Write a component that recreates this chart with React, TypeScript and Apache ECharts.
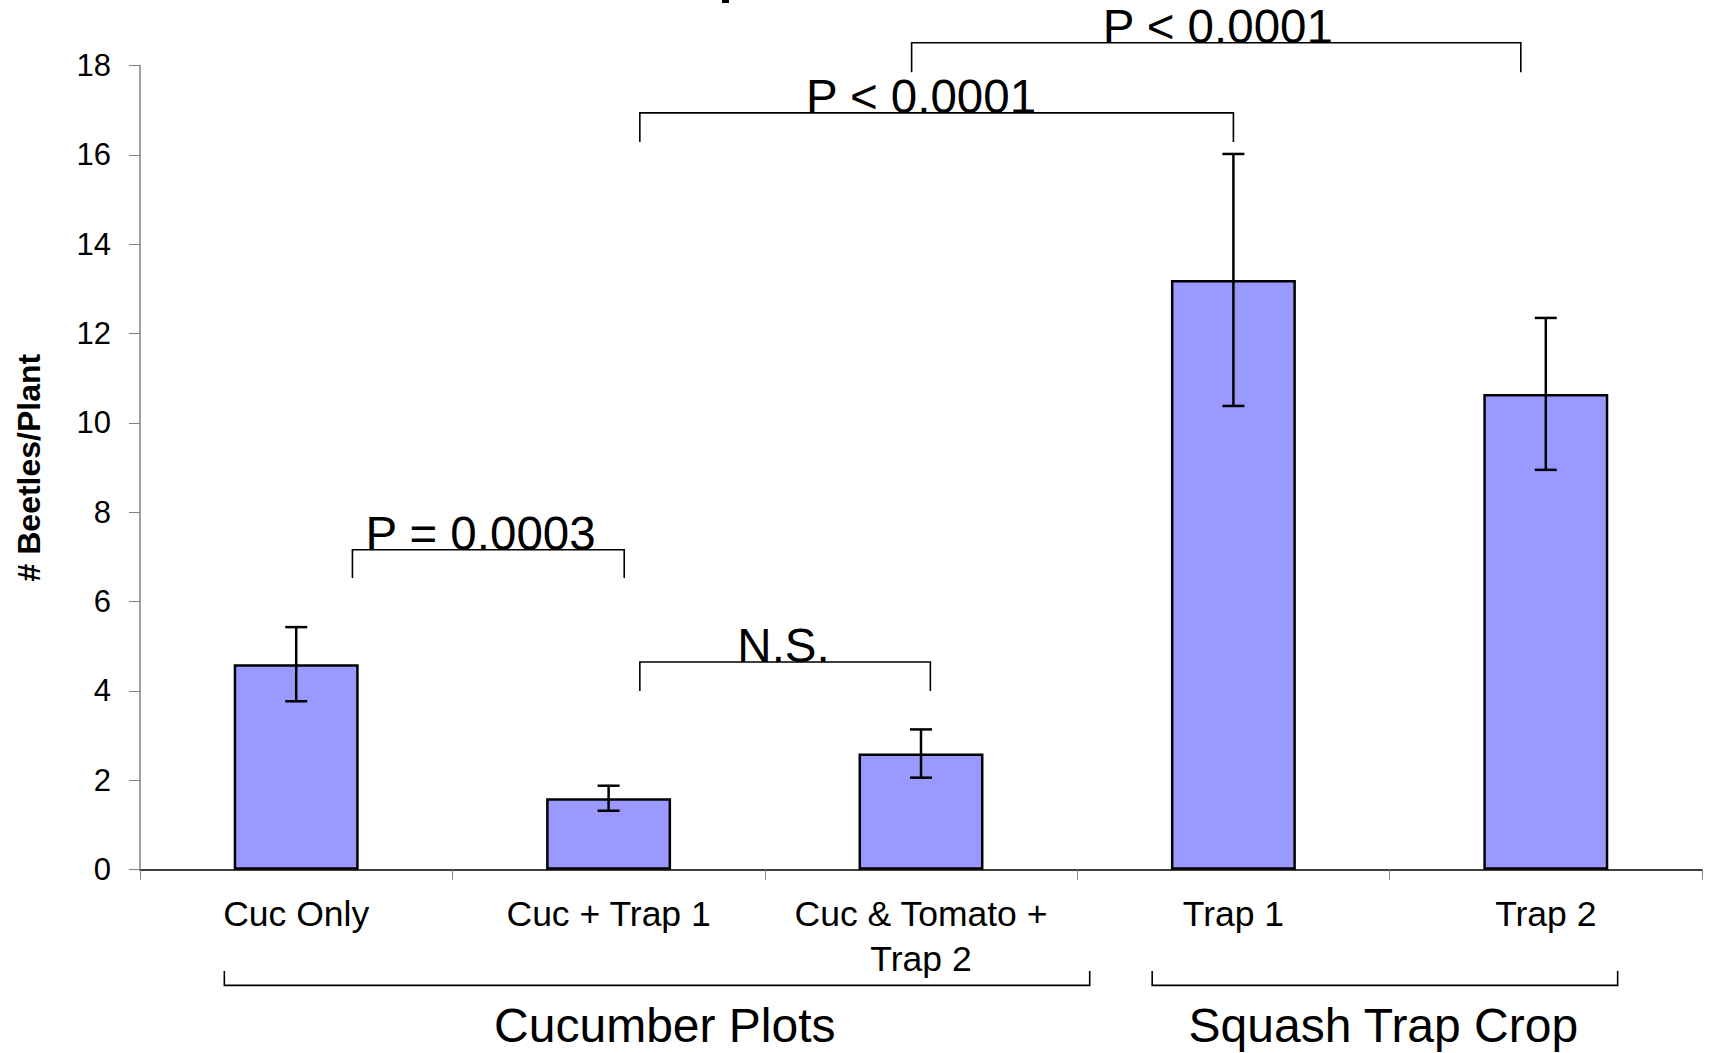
import React, { useEffect, useRef } from "react";
import * as echarts from "echarts";

const categories = ["Cuc Only", "Cuc + Trap 1", "Cuc & Tomato +\nTrap 2", "Trap 1", "Trap 2"];
const means = [4.6, 1.6, 2.6, 13.2, 10.65];
const errors = [0.83, 0.28, 0.54, 2.82, 1.7];
const yTicks = { min: 0, max: 18, interval: 2 };

// significance brackets: x in category units (index), y in data units
const sigLabels = ["P = 0.0003", "N.S.", "P < 0.0001", "P < 0.0001"];
const sigX1 = [0.18, 1.1, 1.1, 1.97];
const sigX2 = [1.05, 2.03, 3.0, 3.92];
const sigY = [7.16, 4.65, 16.94, 18.51];
const sigLeg = [6.53, 4.0, 16.29, 17.85];
const sigTextX = [0.59, 1.56, 2.0, 2.95];

// group brackets below the axis
const groupLabels = ["Cucumber Plots", "Squash Trap Crop"];
const groupX1 = [-0.23, 2.74];
const groupX2 = [2.54, 4.23];
const groupY = [-2.59, -2.59];
const groupLeg = [-2.27, -2.27];
const groupTextX = [1.18, 3.48];
const groupTextY = [-3.48, -3.48];

const FONT = "Liberation Sans, Arial, Helvetica, sans-serif";

export default function App() {
  const ref = useRef<HTMLDivElement>(null);
  useEffect(() => {
    document.body.style.margin = "0";
    document.body.style.overflow = "hidden";
    if (!ref.current) return;
    const chart = echarts.init(ref.current, null, { renderer: "svg" });

    const errData = means.map((m, i) => [i, m - errors[i], m + errors[i]]);
    const sigData = sigLabels.map((_, i) => [sigX1[i], sigX2[i], sigY[i], sigLeg[i], sigTextX[i]]);
    const grpData = groupLabels.map((_, i) => [groupX1[i], groupX2[i], groupY[i], groupLeg[i], groupTextX[i], groupTextY[i]]);

    chart.setOption({
      animation: false,
      backgroundColor: "#ffffff",
      grid: { left: 140, right: 9, top: 65.5, bottom: 183.3, containLabel: false },
      xAxis: [
        {
          type: "category",
          data: categories,
          axisLine: { onZero: false, lineStyle: { color: "#000", width: 1.5 } },
          axisTick: { show: true, length: 10, lineStyle: { color: "#808080", width: 1 } },
          axisLabel: {
            interval: 0,
            color: "#000",
            fontSize: 35.5,
            lineHeight: 45,
            margin: 22,
            fontFamily: FONT,
          },
          splitLine: { show: false },
        },
        { type: "value", min: -0.5, max: 4.5, show: false },
      ],
      yAxis: {
        type: "value",
        min: yTicks.min,
        max: yTicks.max,
        interval: yTicks.interval,
        name: "# Beetles/Plant",
        nameLocation: "middle",
        nameRotate: 90,
        nameGap: 95,
        nameTextStyle: { fontSize: 32, fontWeight: "bold", color: "#000", fontFamily: FONT },
        axisLine: { show: true, onZero: false, lineStyle: { color: "#808080", width: 1.5 } },
        axisTick: { show: true, length: 11, lineStyle: { color: "#808080", width: 1 } },
        axisLabel: { color: "#000", fontSize: 31, margin: 29, fontFamily: FONT },
        splitLine: { show: false },
      },
      series: [
        {
          type: "bar",
          data: means,
          barWidth: "40%",
          itemStyle: { color: "#9999FF", borderColor: "#000", borderWidth: 2.5 },
          z: 2,
        },
        {
          type: "custom",
          data: errData,
          z: 3,
          encode: { x: 0, y: [1, 2] },
          renderItem: (params: any, api: any) => {
            const i = api.value(0);
            const lo = api.coord([i, api.value(1)]);
            const hi = api.coord([i, api.value(2)]);
            const hw = 11;
            const st = { stroke: "#000", lineWidth: 2.5 };
            return {
              type: "group",
              children: [
                { type: "line", shape: { x1: hi[0], y1: hi[1], x2: lo[0], y2: lo[1] }, style: st },
                { type: "line", shape: { x1: hi[0] - hw, y1: hi[1], x2: hi[0] + hw, y2: hi[1] }, style: st },
                { type: "line", shape: { x1: lo[0] - hw, y1: lo[1], x2: lo[0] + hw, y2: lo[1] }, style: st },
              ],
            };
          },
        },
        {
          type: "custom",
          xAxisIndex: 1,
          data: sigData,
          clip: false,
          z: 4,
          encode: { x: [0, 1, 4], y: [2, 3] },
          renderItem: (params: any, api: any) => {
            const x1 = api.value(0), x2 = api.value(1), y = api.value(2), leg = api.value(3), tx = api.value(4);
            const a = api.coord([x1, leg]);
            const b = api.coord([x1, y]);
            const c = api.coord([x2, y]);
            const d = api.coord([x2, leg]);
            const t = api.coord([tx, y]);
            return {
              type: "group",
              children: [
                { type: "polyline", shape: { points: [a, b, c, d] }, style: { stroke: "#000", lineWidth: 1.6, fill: null } },
                {
                  type: "text",
                  x: t[0],
                  y: t[1] - 16,
                  style: {
                    text: sigLabels[params.dataIndex],
                    fill: "#000",
                    fontSize: 47.5,
                    fontFamily: FONT,
                    align: "center",
                    verticalAlign: "middle",
                  },
                },
              ],
            };
          },
        },
        {
          type: "custom",
          xAxisIndex: 1,
          data: grpData,
          clip: false,
          z: 4,
          encode: { x: [0, 1, 4], y: [2, 3, 5] },
          renderItem: (params: any, api: any) => {
            const x1 = api.value(0), x2 = api.value(1), y = api.value(2), leg = api.value(3), tx = api.value(4), ty = api.value(5);
            const a = api.coord([x1, leg]);
            const b = api.coord([x1, y]);
            const c = api.coord([x2, y]);
            const d = api.coord([x2, leg]);
            const t = api.coord([tx, ty]);
            return {
              type: "group",
              children: [
                { type: "polyline", shape: { points: [a, b, c, d] }, style: { stroke: "#000", lineWidth: 1.6, fill: null } },
                {
                  type: "text",
                  x: t[0],
                  y: t[1],
                  style: {
                    text: groupLabels[params.dataIndex],
                    fill: "#000",
                    fontSize: 48,
                    fontFamily: FONT,
                    align: "center",
                    verticalAlign: "middle",
                  },
                },
              ],
            };
          },
        },
      ],
      graphic: [
        { type: "rect", shape: { x: 722, y: 0, width: 7, height: 3 }, style: { fill: "#000" }, silent: true },
      ],
    });
    return () => chart.dispose();
  }, []);
  return <div ref={ref} style={{ width: 1711, height: 1053 }} />;
}
